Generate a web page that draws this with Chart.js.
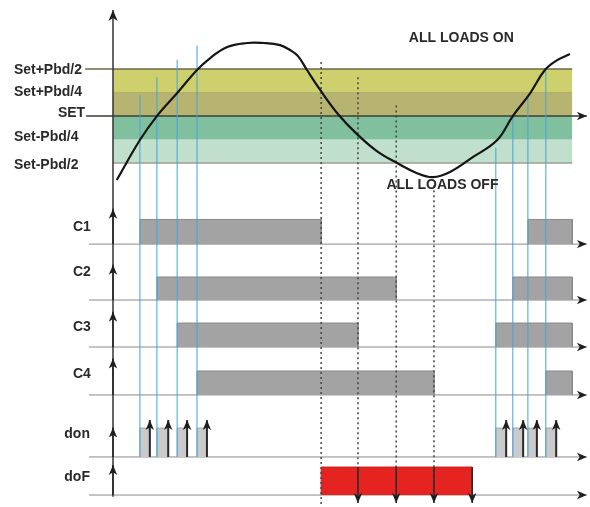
<!DOCTYPE html>
<html>
<head>
<meta charset="utf-8">
<script src="https://cdn.jsdelivr.net/npm/chart.js@4.4.0/dist/chart.umd.min.js"></script>
<style>
  html, body { margin: 0; padding: 0; background: #fff; }
  #wrap { width: 590px; height: 507px; }
</style>
</head>
<body>
<div id="wrap"><canvas id="chart"></canvas></div>
<script>
// time in arbitrary units (0 = vertical axis), temperature in Pbd/4 steps around SET
const T_END = 97.3;
const levelNames = ['Set+Pbd/2', 'Set+Pbd/4', 'SET', 'Set-Pbd/4', 'Set-Pbd/2'];
const levelValues = [2, 1, 0, -1, -2];

const curveT = [0.8, 5.7, 9.3, 13.6, 17.8, 20.6, 24.2, 28.4, 31.8, 35.4, 37.5, 39.2, 41.1, 43.9, 47.7, 51.7, 55.9, 60.2, 64.4, 67.8, 71.4, 76.3, 81.4, 84.7, 88.4, 91.5, 94.1, 96.8];
const curveV = [-2.72, -1.02, 0, 0.98, 1.96, 2.47, 2.94, 3.11, 3.11, 3.02, 2.81, 2.55, 1.96, 1.11, 0.08, -0.77, -1.49, -2.0, -2.43, -2.6, -2.38, -1.74, -1.02, 0, 0.98, 1.96, 2.38, 2.64];

// switch-on instants (blue) and where their guide lines start
const switchOn = [5.7, 9.3, 13.6, 17.8, 81.1, 84.7, 87.9, 91.7];
const switchOnTop = [0.9, 1.65, 2.4, 3.0, -1.35, 0, 0.8, 1.95];
// switch-off instants (dotted)
const switchOff = [44.1, 51.9, 60.0, 68.0];
const switchOffTop = [2.3, 1.65, 0.45, -2.95];

const c1On = [[5.7, 44.1], [87.9, T_END]];
const c2On = [[9.3, 60.0], [84.7, T_END]];
const c3On = [[13.6, 51.9], [81.1, T_END]];
const c4On = [[17.8, 68.0], [91.7, T_END]];
const donPulses = [[5.7, 7.8], [9.3, 11.7], [13.6, 15.7], [17.8, 19.9], [81.1, 83.3], [84.7, 86.9], [87.9, 89.8], [91.7, 93.9]];
const dofOn = [44.1, 76.1];
const dofArrows = [51.9, 60.0, 68.0, 76.1];

// vertical layout of the signal rows (value units)
const rows = [
  { name: 'C1', base: -5.45, high: 1.05, tip: 1.5, label: -4.72, segs: c1On },
  { name: 'C2', base: -7.83, high: 0.98, tip: 1.5, label: -6.64, segs: c2On },
  { name: 'C3', base: -9.83, high: 1.02, tip: 1.5, label: -8.98, segs: c3On },
  { name: 'C4', base: -11.87, high: 1.02, tip: 1.55, label: -10.98, segs: c4On }
];
const donRow = { name: 'don', base: -14.51, high: 1.23, tip: 1.25, label: -13.53 };
const dofRow = { name: 'doF', base: -16.13, high: 1.19, tip: 1.28, label: -15.36 };

const bandColors = ['#cdd06c', '#b6b470', '#80c09e', '#c0dfcc'];

const P = (x, y) => ({ x, y });
const datasets = [];
function add(points, opts) {
  datasets.push(Object.assign({ data: points, pointRadius: 0, borderWidth: 1, fill: false, tension: 0 }, opts));
}
function rect(a, b, base, h, fillCol, lineCol, order) {
  add([P(a, base), P(a, base + h), P(b, base + h), P(b, base)],
    { borderColor: lineCol, backgroundColor: fillCol, fill: { value: base }, order });
}

// bands
for (let i = 0; i < 4; i++) {
  add([P(0, levelValues[i]), P(T_END, levelValues[i])],
    { borderWidth: 0, borderColor: 'rgba(0,0,0,0)', backgroundColor: bandColors[i], fill: { value: levelValues[i + 1] }, order: 100 });
}
add([P(-5.9, 2), P(T_END, 2)], { borderColor: '#6b6a47', borderWidth: 1.5, order: 90 });
add([P(0, 1), P(T_END, 1)], { borderColor: 'rgba(110,110,60,0.35)', borderWidth: 1, order: 90 });
add([P(-5.7, 0), P(100.4, 0)], { borderColor: '#3d3d35', borderWidth: 1.5, order: 90, arrowHead: 10 });
add([P(0, -2), P(T_END, -2)], { borderColor: '#7a7a6c', borderWidth: 1, order: 90 });

// temperature curve
add(curveT.map((t, i) => P(t, curveV[i])), { borderColor: '#151515', borderWidth: 2.2, tension: 0.4, order: 5 });

// rows
[...rows, donRow, dofRow].forEach(r => {
  add([P(-5.1, r.base), P(100.4, r.base)], { borderColor: '#8a8a8a', borderWidth: 1, order: 60, arrowHead: 10 });
  add([P(0, r.base), P(0, r.base + r.tip)], { borderColor: '#222', borderWidth: 1.5, order: 7, arrowHead: 10 });
});
rows.forEach(r => r.segs.forEach(s => rect(s[0], s[1], r.base, r.high, '#a3a3a3', '#8a8a8a', 50)));

donPulses.forEach(p => {
  rect(p[0], p[1], donRow.base, donRow.high, '#cacaca', '#a8a8a8', 50);
  add([P(p[1], donRow.base), P(p[1], donRow.base + 1.57)], { borderColor: '#2a2a2a', borderWidth: 2, order: 6, arrowHead: 10 });
});

rect(dofOn[0], dofOn[1], dofRow.base, dofRow.high, '#e52421', '#c81e1b', 50);
dofArrows.forEach(t => {
  add([P(t, dofRow.base + dofRow.high), P(t, dofRow.base - 0.34)], { borderColor: '#2a2a2a', borderWidth: 1.5, order: 6, arrowHead: 10 });
});

// guide lines
switchOn.forEach((t, i) => {
  add([P(t, switchOnTop[i]), P(t, donRow.base)], { borderColor: 'rgba(70,165,215,0.85)', borderWidth: 1.2, order: 10 });
});
switchOff.forEach((t, i) => {
  add([P(t, switchOffTop[i]), P(t, i === 0 ? -16.6 : dofRow.base)], { borderColor: '#444', borderWidth: 1.5, borderDash: [2, 3], order: 9 });
});

// main vertical axis
add([P(0, -16.2), P(0, 4.51)], { borderColor: '#333', borderWidth: 1.5, order: 7, arrowHead: 11 });

const texts = [
  { text: levelNames[0], t: -21, v: 1.96, align: 'left' },
  { text: levelNames[1], t: -21, v: 1.02, align: 'left' },
  { text: levelNames[2], t: -5.9, v: 0.13, align: 'right' },
  { text: levelNames[3], t: -21, v: -0.89, align: 'left' },
  { text: levelNames[4], t: -21, v: -2.09, align: 'left' },
  { text: 'ALL LOADS ON', t: 73.8, v: 3.3, align: 'center' },
  { text: 'ALL LOADS OFF', t: 69.8, v: -2.94, align: 'center' },
  ...rows.map(r => ({ text: r.name, t: -6.6, v: r.label, align: 'center' })),
  { text: donRow.name, t: -7.6, v: donRow.label, align: 'center' },
  { text: dofRow.name, t: -7.6, v: dofRow.label, align: 'center' }
];

const arrowHeads = {
  id: 'arrowHeads',
  afterDatasetsDraw(chart) {
    const ctx = chart.ctx;
    chart.data.datasets.forEach((d, i) => {
      if (!d.arrowHead) return;
      const pts = chart.getDatasetMeta(i).data;
      const a = pts[pts.length - 2], b = pts[pts.length - 1];
      const ang = Math.atan2(b.y - a.y, b.x - a.x);
      const len = d.arrowHead, half = len * 0.42;
      ctx.save();
      ctx.translate(b.x, b.y);
      ctx.rotate(ang);
      ctx.beginPath();
      ctx.moveTo(0, 0);
      ctx.lineTo(-len, -half);
      ctx.lineTo(-len * 0.72, 0);
      ctx.lineTo(-len, half);
      ctx.closePath();
      ctx.fillStyle = '#1e1e1e';
      ctx.fill();
      ctx.restore();
    });
  }
};

const labels = {
  id: 'labels',
  afterDraw(chart) {
    const { ctx, scales: { x, y } } = chart;
    ctx.save();
    ctx.font = 'bold 14px "Liberation Sans", Arial, sans-serif';
    ctx.fillStyle = '#2a2a2a';
    ctx.textBaseline = 'middle';
    texts.forEach(l => {
      ctx.textAlign = l.align;
      ctx.fillText(l.text, x.getPixelForValue(l.t), y.getPixelForValue(l.v));
    });
    ctx.restore();
  }
};

new Chart(document.getElementById('chart'), {
  type: 'line',
  data: { datasets },
  options: {
    responsive: true,
    maintainAspectRatio: false,
    animation: false,
    layout: { padding: 0 },
    plugins: { legend: { display: false }, tooltip: { enabled: false } },
    scales: {
      x: { type: 'linear', min: -23.94, max: 101.06, display: false },
      y: { type: 'linear', min: -16.64, max: 4.94, display: false }
    }
  },
  plugins: [arrowHeads, labels]
});
</script>
</body>
</html>
